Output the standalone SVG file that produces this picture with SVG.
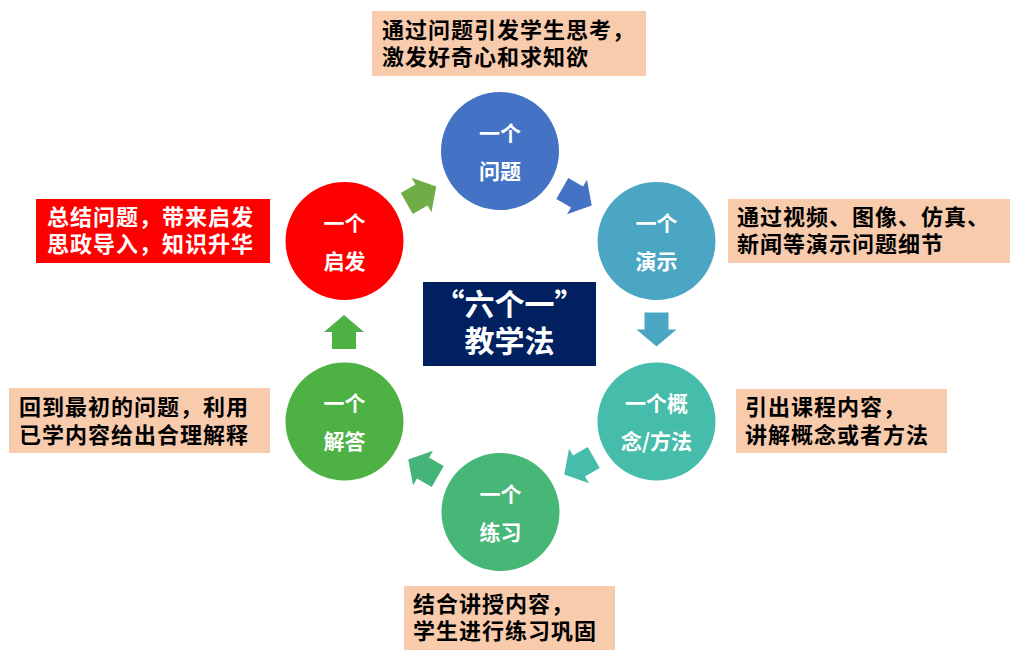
<svg xmlns="http://www.w3.org/2000/svg" width="1022" height="665" viewBox="0 0 1022 665">
<style>
.box{fill:#F8CBAD}
.bt{font-family:"Noto Sans CJK SC","Noto Sans CJK TC",sans-serif;font-weight:bold;font-size:22px;letter-spacing:1px;fill:#000}
.wt{font-family:"Noto Sans CJK SC","Noto Sans CJK TC",sans-serif;font-weight:bold;font-size:22px;letter-spacing:1px;fill:#fff}
.ct{font-family:"Noto Sans CJK SC","Noto Sans CJK TC",sans-serif;font-weight:bold;font-size:21px;fill:#fff;text-anchor:middle}
.mt{font-family:"Noto Sans CJK SC","Noto Sans CJK TC",sans-serif;font-weight:bold;font-size:30px;fill:#fff;text-anchor:middle}
</style>
<defs>
<path id="arr" d="M-17,-12 H0 V-20 L17,0 L0,20 V12 H-17 Z"/>
</defs>
<rect width="1022" height="665" fill="#fff"/>

<g id="connectors">
<use href="#arr" fill="#70AD47" transform="translate(421.5,195) rotate(-30)"/>
<use href="#arr" fill="#4472C4" transform="translate(577,197) rotate(30)"/>
<use href="#arr" fill="#4BA6C4" transform="translate(656.5,329.5) rotate(90)"/>
<use href="#arr" fill="#46BCAA" transform="translate(579,466) rotate(150)"/>
<use href="#arr" fill="#46B47A" transform="translate(423,468) rotate(210)"/>
<use href="#arr" fill="#4DB144" transform="translate(344,332) rotate(-90)"/>
</g>

<g id="center">
<rect x="423" y="282" width="173" height="84" fill="#002060"/>
<text class="mt" x="509.5" y="315">“六个一”</text>
<text class="mt" x="509.5" y="352">教学法</text>
</g>

<g id="n-wenti">
<circle cx="500" cy="151" r="59" fill="#4472C4"/>
<text class="ct" x="500" y="141">一个</text>
<text class="ct" x="500" y="179">问题</text>
</g>
<g id="n-yanshi">
<circle cx="656.5" cy="241" r="59" fill="#4BA6C4"/>
<text class="ct" x="656.5" y="231">一个</text>
<text class="ct" x="656.5" y="269">演示</text>
</g>
<g id="n-gainian">
<circle cx="656.5" cy="421.5" r="59" fill="#46BCAA"/>
<text class="ct" x="656.5" y="411">一个概</text>
<text class="ct" x="656.5" y="449">念/方法</text>
</g>
<g id="n-lianxi">
<circle cx="500.5" cy="512" r="59" fill="#47B778"/>
<text class="ct" x="500.5" y="502">一个</text>
<text class="ct" x="500.5" y="540">练习</text>
</g>
<g id="n-jieda">
<circle cx="344.5" cy="421.5" r="59" fill="#4DB144"/>
<text class="ct" x="344.5" y="411">一个</text>
<text class="ct" x="344.5" y="449">解答</text>
</g>
<g id="n-qifa">
<circle cx="344.5" cy="241" r="59" fill="#FF0000"/>
<text class="ct" x="344.5" y="231">一个</text>
<text class="ct" x="344.5" y="269">启发</text>
</g>

<g id="t-wenti">
<rect class="box" x="372" y="11" width="274" height="65"/>
<text class="bt" x="382" y="38">通过问题引发学生思考，</text>
<text class="bt" x="382" y="65">激发好奇心和求知欲</text>
</g>
<g id="t-qifa">
<rect x="36" y="199" width="234" height="64" fill="#FF0000"/>
<text class="wt" x="47" y="225">总结问题，带来启发</text>
<text class="wt" x="47" y="252">思政导入，知识升华</text>
</g>
<g id="t-yanshi">
<rect class="box" x="728" y="199" width="282" height="64"/>
<text class="bt" x="737" y="225">通过视频、图像、仿真、</text>
<text class="bt" x="737" y="252">新闻等演示问题细节</text>
</g>
<g id="t-jieda">
<rect class="box" x="9" y="388" width="261" height="65"/>
<text class="bt" x="19" y="415">回到最初的问题，利用</text>
<text class="bt" x="19" y="443">已学内容给出合理解释</text>
</g>
<g id="t-gainian">
<rect class="box" x="736" y="389" width="211" height="64"/>
<text class="bt" x="745" y="415">引出课程内容，</text>
<text class="bt" x="745" y="443">讲解概念或者方法</text>
</g>
<g id="t-lianxi">
<rect class="box" x="404" y="586" width="211" height="64"/>
<text class="bt" x="413" y="612">结合讲授内容，</text>
<text class="bt" x="413" y="639">学生进行练习巩固</text>
</g>
</svg>
